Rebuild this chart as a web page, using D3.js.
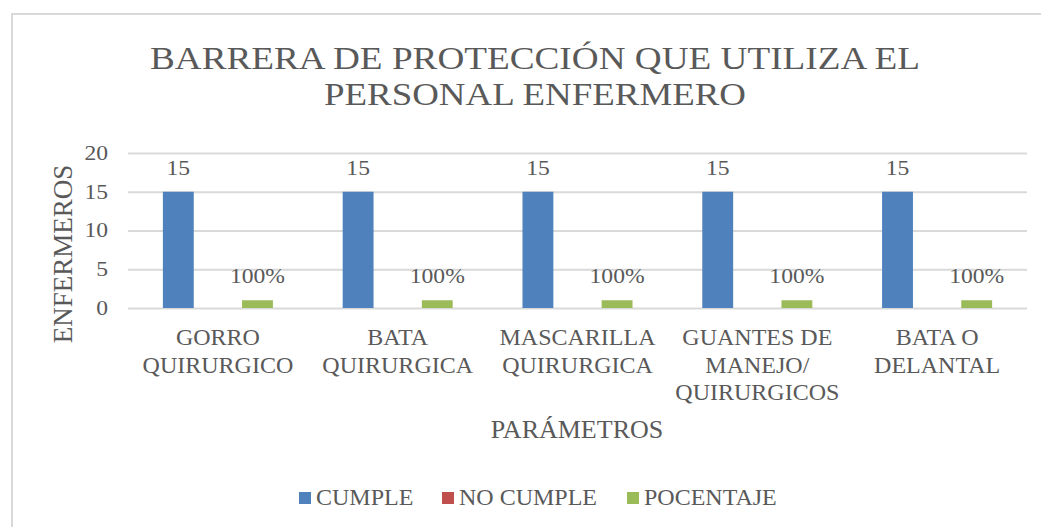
<!DOCTYPE html>
<html>
<head>
<meta charset="utf-8">
<script src="https://cdn.jsdelivr.net/npm/d3@7"></script>
<style>
  body { margin: 0; background: #ffffff; }
  text { font-family: "Liberation Serif", "Times New Roman", serif; fill: #595959; }
</style>
</head>
<body>
<div id="chart"></div>
<script>
// Data
// ====
var categories = ["GORRO QUIRURGICO", "BATA QUIRURGICA", "MASCARILLA QUIRURGICA", "GUANTES DE MANEJO/ QUIRURGICOS", "BATA O DELANTAL"];
var categoryLines = [
  ["GORRO", "QUIRURGICO"],
  ["BATA", "QUIRURGICA"],
  ["MASCARILLA", "QUIRURGICA"],
  ["GUANTES DE", "MANEJO/", "QUIRURGICOS"],
  ["BATA O", "DELANTAL"]
];
var seriesNames = ["CUMPLE", "NO CUMPLE", "POCENTAJE"];
var cumple = [15, 15, 15, 15, 15];
var noCumple = [0, 0, 0, 0, 0];
var pocentaje = [1, 1, 1, 1, 1];
var yTicks = [0, 5, 10, 15, 20];
var colors = ["#4F81BD", "#C0504D", "#9BBB59"];

var seriesValues = [cumple, noCumple, pocentaje];

// Canvas
// ======
var width = 1041;
var height = 527;

// the numbers in the picture are a bit wider than plain Times
var stretch = 1.18;

var svg = d3
  .select("#chart")
  .append("svg")
  .attr("width", width)
  .attr("height", height);

// chart border
svg.append("rect")
  .attr("x", 12)
  .attr("y", 14)
  .attr("width", 1040)
  .attr("height", 530)
  .attr("fill", "none")
  .attr("stroke", "#d9d9d9")
  .attr("stroke-width", 2);

// plot area bounds
var plotLeft = 128;
var plotRight = 1027;
var plotTop = 153;
var plotBottom = 308;

// Scales
var x0 = d3.scaleBand()
  .domain(categories)
  .range([plotLeft, plotRight])
  .paddingInner(0.388)
  .paddingOuter(0.194);

var x1 = d3.scaleBand()
  .domain(seriesNames)
  .range([0, x0.bandwidth()])
  .paddingInner(0.22);

var y = d3.scaleLinear()
  .domain([0, 20])
  .range([plotBottom, plotTop]);

var color = d3.scaleOrdinal().domain(seriesNames).range(colors);

// Title
// =====
var title = svg.append("g");
title.append("text")
  .attr("x", 535)
  .attr("y", 69)
  .attr("text-anchor", "middle")
  .attr("font-size", 31)
  .attr("textLength", 770)
  .attr("lengthAdjust", "spacingAndGlyphs")
  .text("BARRERA DE PROTECCIÓN QUE UTILIZA EL");
title.append("text")
  .attr("x", 535)
  .attr("y", 105)
  .attr("text-anchor", "middle")
  .attr("font-size", 31)
  .attr("textLength", 422)
  .attr("lengthAdjust", "spacingAndGlyphs")
  .text("PERSONAL ENFERMERO");

// Y axis with gridlines
// =====================
var yAxis = svg.append("g")
  .attr("transform", "translate(" + plotLeft + ",0)")
  .call(d3.axisLeft(y)
    .tickValues(yTicks)
    .tickSize(-(plotRight - plotLeft))
    .tickPadding(20));

yAxis.select(".domain").remove();
yAxis.selectAll(".tick line")
  .attr("stroke", "#d9d9d9")
  .attr("stroke-width", 2);
yAxis.selectAll(".tick text")
  .attr("font-size", 20)
  .attr("font-family", null)
  .attr("fill", null)
  .attr("x", -20 / stretch)
  .attr("transform", "scale(" + stretch + ",1)");

// X axis labels
// =============
var xAxis = svg.append("g")
  .attr("transform", "translate(0," + plotBottom + ")")
  .call(d3.axisBottom(x0).tickSize(0).tickPadding(0));

xAxis.select(".domain").remove();
xAxis.selectAll(".tick text")
  .attr("font-size", 24)
  .attr("font-family", null)
  .attr("fill", null)
  .attr("dy", null)
  .attr("y", 0)
  .text(null)
  .each(function(d, i) {
    var t = d3.select(this);
    categoryLines[i].forEach(function(line, j) {
      t.append("tspan")
        .attr("x", 0)
        .attr("y", 37 + j * 27.5)
        .text(line);
    });
  });

// Axis titles
svg.append("text")
  .attr("x", 577)
  .attr("y", 438)
  .attr("text-anchor", "middle")
  .attr("font-size", 26)
  .text("PARÁMETROS");

svg.append("text")
  .attr("transform", "translate(72,254)rotate(-90)")
  .attr("text-anchor", "middle")
  .attr("font-size", 27)
  .text("ENFERMEROS");

// Bars
// ====
var groups = svg.append("g")
  .selectAll("g")
  .data(categories)
  .join("g")
  .attr("transform", function(d) { return "translate(" + x0(d) + ",0)"; });

groups.selectAll("rect")
  .data(function(d, i) {
    return seriesNames.map(function(s, k) {
      return { series: s, value: seriesValues[k][i] };
    });
  })
  .join("rect")
  .attr("x", function(d) { return x1(d.series); })
  .attr("y", function(d) { return y(d.value); })
  .attr("width", x1.bandwidth())
  .attr("height", function(d) { return y(0) - y(d.value); })
  .attr("fill", function(d) { return color(d.series); });

// data labels (zero values have none)
var pct = d3.format(".0%");
groups.selectAll("text.lbl")
  .data(function(d, i) {
    return seriesNames.map(function(s, k) {
      return { series: s, value: seriesValues[k][i] };
    }).filter(function(d) { return d.value > 0; });
  })
  .join("text")
  .attr("class", "lbl")
  .attr("transform", function(d) {
    return "translate(" + (x1(d.series) + x1.bandwidth() / 2) + "," + (y(d.value) - 17) + ")scale(" + stretch + ",1)";
  })
  .attr("text-anchor", "middle")
  .attr("font-size", 20)
  .text(function(d) { return d.series === "POCENTAJE" ? pct(d.value) : d.value; });

// Legend
// ======
var legendX = [299, 442, 627];
var legend = svg.append("g")
  .selectAll("g")
  .data(seriesNames)
  .join("g")
  .attr("transform", function(d, i) { return "translate(" + legendX[i] + ",492)"; });

legend.append("rect")
  .attr("width", 12)
  .attr("height", 12)
  .attr("fill", function(d) { return color(d); });

legend.append("text")
  .attr("x", 17)
  .attr("y", 13)
  .attr("font-size", 24)
  .text(function(d) { return d; });
</script>
</body>
</html>
